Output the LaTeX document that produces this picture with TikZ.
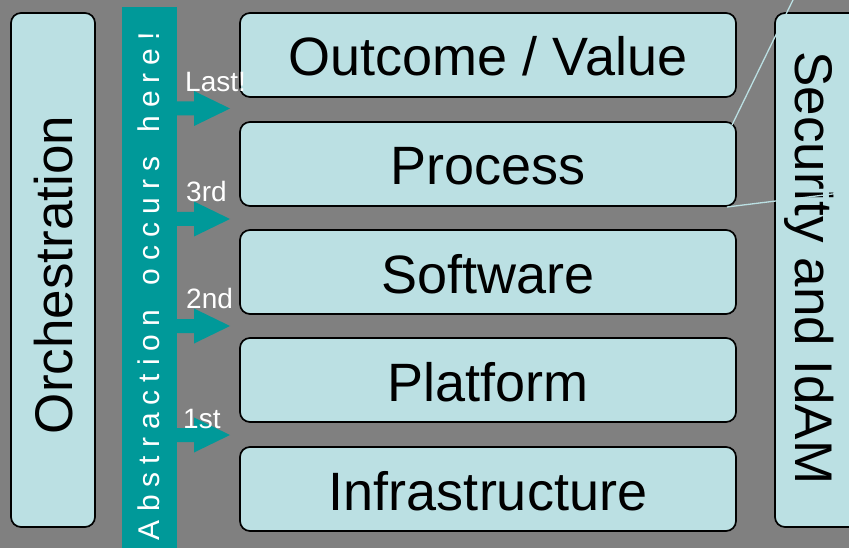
\documentclass[tikz,border=0pt]{standalone}
\usepackage{fontspec}
\setmainfont{Liberation Sans}
\usetikzlibrary{calc}
\definecolor{bgGray}{RGB}{128,128,128}
\definecolor{boxFill}{RGB}{187,224,227}
\definecolor{barTeal}{RGB}{0,153,153}
\begin{document}
\begin{tikzpicture}[x=1pt,y=-1pt,
  layer/.style={draw=black, line width=1.7pt, fill=boxFill, rounded corners=10pt,
    minimum width=496pt, minimum height=84pt, inner sep=0pt, outer sep=0pt,
    font=\fontsize{54}{60}\selectfont, text height=42pt, text depth=0pt},
  side/.style={draw=black, line width=1.7pt, fill=boxFill, rounded corners=10pt,
    inner sep=0pt, outer sep=0pt},
  big/.style={font=\fontsize{53}{60}\selectfont, inner sep=0pt},
  lbl/.style={font=\fontsize{28}{32}\selectfont, text=white, inner sep=0pt, anchor=base west},
  abarrow/.style={fill=barTeal},
  link/.style={draw=boxFill, line width=1.3pt}
]
\clip (0,0) rectangle (849,548);
\fill[bgGray] (0,0) rectangle (849,548);

% side boxes
\node[side, minimum width=84pt, minimum height=514pt] (orch) at (53,270) {};
\node[big, rotate=90, anchor=base] (orchtext) at (72.5,275) {Orchestration};
\node[side, minimum width=150pt, minimum height=514pt] (sec) at (850,270) {};
\node[big, rotate=-90, anchor=base] (sectext) at (795,268) {Security and IdAM};

% abstraction bar
\node[fill=barTeal, minimum width=55.5pt, minimum height=560pt, inner sep=0pt, outer sep=0pt,
  anchor=north west] (bar) at (121.5,7) {};
\node[rotate=90, text=white, inner sep=0pt, font=\fontsize{30}{34}\selectfont] (abstr) at (149,286)
  {\makebox[508pt][s]{A\hfill b\hfill s\hfill t\hfill r\hfill a\hfill c\hfill t\hfill i\hfill o\hfill n\hfill\hspace{0.28em}\hfill o\hfill c\hfill c\hfill u\hfill r\hfill s\hfill\hspace{0.28em}\hfill h\hfill e\hfill r\hfill e\hfill !}};

% arrows out of the bar
\foreach \c in {108.5,219,326,435}
  \fill[abarrow] (176,\c-7) -- (194,\c-7) -- (194,\c-17.5) -- (230,\c) -- (194,\c+17.5) -- (194,\c+7) -- (176,\c+7) -- cycle;

% layers
\node[layer] (outcome) at (488,55) {Outcome / Value};
\node[layer] (process) at (488,164) {Process};
\node[layer] (software) at (488,272) {Software};
\node[layer] (platform) at (488,380) {Platform};
\node[layer] (infra) at (488,489) {Infrastructure};

% arrow labels
\node[lbl] (lLast) at (185,92) {Last!};
\node[lbl] (l3) at (186,202) {3rd};
\node[lbl] (l2) at (186,308) {2nd};
\node[lbl] (l1) at (183,428) {1st};

% links to off-picture items
\coordinate (offA) at (795.4,-5);
\coordinate (offB) at (860,190.6);
\draw[link] ($(process.north east)+(-4,3)$) -- (offA);
\draw[link] ($(process.south east)+(-9,1)$) -- (offB);
\end{tikzpicture}
\end{document}
